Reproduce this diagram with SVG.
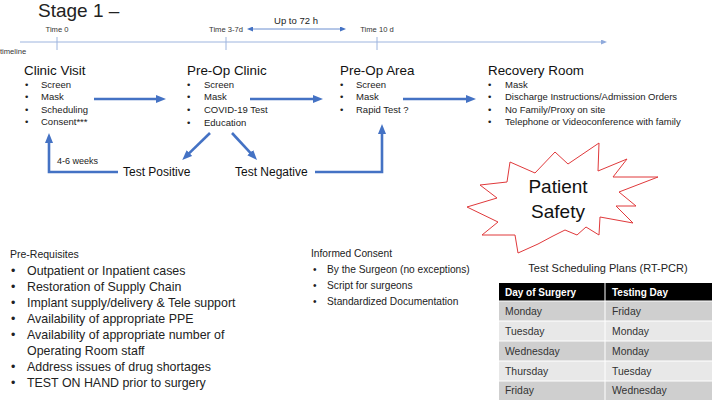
<svg xmlns="http://www.w3.org/2000/svg" width="713" height="400" viewBox="0 0 713 400">
<style>
text{font-family:"Liberation Sans",Arial,sans-serif;fill:#111}
.h{font-size:13.4px}
.b{font-size:9.5px;fill:#222}
.t{font-size:7.6px;fill:#333}
.p{font-size:12.4px;fill:#222}
.ic{font-size:10.2px;fill:#222}
.tb{font-size:10.4px;fill:#333}
.th{font-size:10px;font-weight:bold;fill:#fff}
.tl{stroke:#9DB4DE;stroke-width:1;fill:none}
.ar{stroke:#4472C4;stroke-width:2.6;fill:none;marker-end:url(#ah)}
</style>
<defs>
<marker id="ah" markerUnits="userSpaceOnUse" markerWidth="10" markerHeight="8" refX="2" refY="4" orient="auto"><path d="M0,0 L10,4 L0,8 Z" fill="#4472C4"/></marker>
<marker id="sh" markerUnits="userSpaceOnUse" markerWidth="6" markerHeight="5" refX="1" refY="2.5" orient="auto-start-reverse"><path d="M0,0 L6,2.5 L0,5 Z" fill="#4472C4"/></marker>
<marker id="lh" markerUnits="userSpaceOnUse" markerWidth="6" markerHeight="5" refX="1" refY="2.5" orient="auto"><path d="M0,0 L6,2.5 L0,5 Z" fill="#8FAADC"/></marker>
</defs>
<rect width="713" height="400" fill="#fff"/>
<text x="38" y="17" style="font-size:19px;fill:#222">Stage 1 –</text>

<g id="timeline">
<line class="tl" x1="20" y1="42" x2="602" y2="42" marker-end="url(#lh)"/>
<line class="tl" x1="57" y1="37" x2="57" y2="50"/>
<line class="tl" x1="226" y1="37" x2="226" y2="50"/>
<line class="tl" x1="377" y1="37" x2="377" y2="50"/>
<text class="t" x="57" y="32" text-anchor="middle">Time 0</text>
<text class="t" x="226" y="32" text-anchor="middle">Time 3-7d</text>
<text class="t" x="377" y="32" text-anchor="middle">Time 10 d</text>
<text class="t" x="0" y="54">timeline</text>
<text x="296" y="24" text-anchor="middle" style="font-size:9.5px;fill:#222">Up to 72 h</text>
<line x1="252" y1="29" x2="341" y2="29" stroke="#4472C4" stroke-width="0.8" marker-start="url(#sh)" marker-end="url(#sh)"/>
</g>

<g id="clinic-visit">
<text class="h" x="24" y="75">Clinic Visit</text>
<text class="b" x="25" y="88">•</text><text class="b" x="41" y="88">Screen</text>
<text class="b" x="25" y="100">•</text><text class="b" x="41" y="100">Mask</text>
<text class="b" x="25" y="113">•</text><text class="b" x="41" y="113">Scheduling</text>
<text class="b" x="25" y="125">•</text><text class="b" x="41" y="125">Consent***</text>
</g>

<g id="pre-op-clinic">
<text class="h" x="187" y="75">Pre-Op Clinic</text>
<text class="b" x="187" y="88">•</text><text class="b" x="204" y="88">Screen</text>
<text class="b" x="187" y="100">•</text><text class="b" x="204" y="100">Mask</text>
<text class="b" x="187" y="113">•</text><text class="b" x="204" y="113">COVID-19 Test</text>
<text class="b" x="187" y="126">•</text><text class="b" x="204" y="126">Education</text>
</g>

<g id="pre-op-area">
<text class="h" x="340" y="75">Pre-Op Area</text>
<text class="b" x="340" y="88">•</text><text class="b" x="356" y="88">Screen</text>
<text class="b" x="340" y="100">•</text><text class="b" x="356" y="100">Mask</text>
<text class="b" x="340" y="113">•</text><text class="b" x="356" y="113">Rapid Test ?</text>
</g>

<g id="recovery-room">
<text class="h" x="488" y="75">Recovery Room</text>
<text class="b" x="488" y="88">•</text><text class="b" x="505" y="88">Mask</text>
<text class="b" x="488" y="100">•</text><text class="b" x="505" y="100">Discharge Instructions/Admission Orders</text>
<text class="b" x="488" y="113">•</text><text class="b" x="505" y="113">No Family/Proxy on site</text>
<text class="b" x="488" y="125">•</text><text class="b" x="505" y="125">Telephone or Videoconference with family</text>
</g>

<g id="test-positive">
<text x="123" y="176" style="font-size:12px">Test Positive</text>
</g>
<g id="test-negative">
<text x="235" y="176" style="font-size:12px">Test Negative</text>
</g>

<g id="connectors">
<line class="ar" x1="94" y1="99" x2="158" y2="99"/>
<line class="ar" x1="250" y1="99" x2="315" y2="99"/>
<line class="ar" x1="403" y1="99" x2="468" y2="99"/>
<line class="ar" x1="210" y1="133" x2="188" y2="154.4"/>
<line class="ar" x1="232" y1="133" x2="251.6" y2="154.1"/>
<polyline class="ar" points="118,172 49,172 49,141"/>
<polyline class="ar" points="315,172 382,172 382,132"/>
<text x="57" y="164" style="font-size:9px;fill:#222">4-6 weeks</text>
</g>

<g id="patient-safety">
<polygon points="599,143 598,171 627,159 613,177 658,177 619,192 636,206 616,206 633,223 600,217 599,235 586,227 577,235 565,230 553,236 538,244 518,253 515,235 482,235 498,222 467,207 497,198 480,185 507,182 510,162 535,173 555,152 568,164" fill="#fff" stroke="#E0393B" stroke-width="1"/>
<text x="558" y="193" text-anchor="middle" style="font-size:19px">Patient</text>
<text x="558" y="218" text-anchor="middle" style="font-size:19px">Safety</text>
</g>

<g id="pre-requisites">
<text x="10" y="258" style="font-size:10.5px;fill:#222">Pre-Requisites</text>
<text class="p" x="11" y="275">•</text><text class="p" x="27" y="275">Outpatient or Inpatient cases</text>
<text class="p" x="11" y="291">•</text><text class="p" x="27" y="291">Restoration of Supply Chain</text>
<text class="p" x="11" y="307">•</text><text class="p" x="27" y="307">Implant supply/delivery &amp; Tele support</text>
<text class="p" x="11" y="323">•</text><text class="p" x="27" y="323">Availability of appropriate PPE</text>
<text class="p" x="11" y="339">•</text><text class="p" x="27" y="339">Availability of appropriate number of</text>
<text class="p" x="27" y="355">Operating Room staff</text>
<text class="p" x="11" y="371">•</text><text class="p" x="27" y="371">Address issues of drug shortages</text>
<text class="p" x="11" y="387">•</text><text class="p" x="27" y="387">TEST ON HAND prior to surgery</text>
</g>

<g id="informed-consent">
<text class="ic" x="311" y="257">Informed Consent</text>
<text class="ic" x="313" y="273">•</text><text class="ic" x="327" y="273">By the Surgeon (no exceptions)</text>
<text class="ic" x="313" y="289">•</text><text class="ic" x="327" y="289">Script for surgeons</text>
<text class="ic" x="313" y="305">•</text><text class="ic" x="327" y="305">Standardized Documentation</text>
</g>

<g id="test-scheduling">
<text x="608" y="272" text-anchor="middle" style="font-size:11px;fill:#222">Test Scheduling Plans (RT-PCR)</text>
<rect x="499" y="283" width="213" height="18" fill="#000"/>
<rect x="499" y="301" width="213" height="20" fill="#CFCFCF"/>
<rect x="499" y="321" width="213" height="20" fill="#E8E8E8"/>
<rect x="499" y="341" width="213" height="20" fill="#CFCFCF"/>
<rect x="499" y="361" width="213" height="20" fill="#E8E8E8"/>
<rect x="499" y="381" width="213" height="19" fill="#CFCFCF"/>
<g stroke="#fff" stroke-width="1">
<line x1="499" y1="301" x2="712" y2="301"/>
<line x1="499" y1="321" x2="712" y2="321"/>
<line x1="499" y1="341" x2="712" y2="341"/>
<line x1="499" y1="361" x2="712" y2="361"/>
<line x1="499" y1="381" x2="712" y2="381"/>
<line x1="605" y1="283" x2="605" y2="400"/>
</g>
<text class="th" x="505" y="296">Day of Surgery</text>
<text class="th" x="612" y="296">Testing Day</text>
<text class="tb" x="505" y="315">Monday</text><text class="tb" x="612" y="315">Friday</text>
<text class="tb" x="505" y="335">Tuesday</text><text class="tb" x="612" y="335">Monday</text>
<text class="tb" x="505" y="355">Wednesday</text><text class="tb" x="612" y="355">Monday</text>
<text class="tb" x="505" y="375">Thursday</text><text class="tb" x="612" y="375">Tuesday</text>
<text class="tb" x="505" y="394">Friday</text><text class="tb" x="612" y="394">Wednesday</text>
</g>
</svg>
